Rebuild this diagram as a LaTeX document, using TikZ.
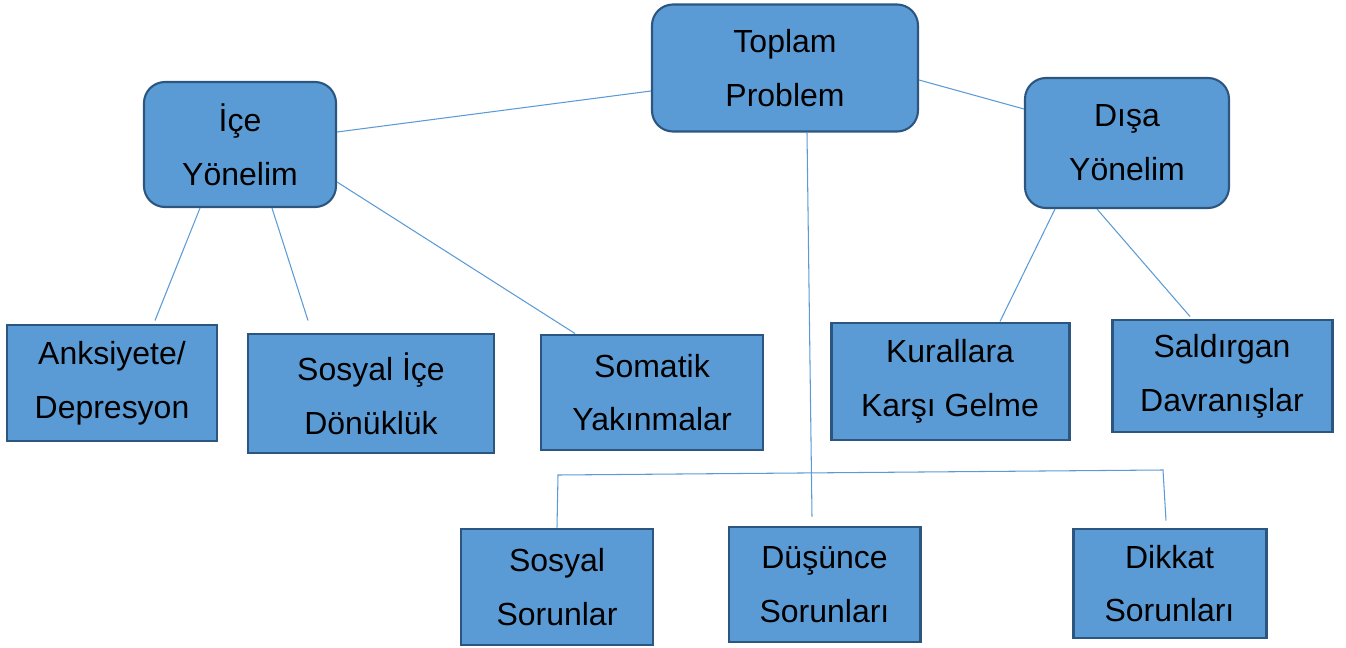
\documentclass[tikz,border=0pt]{standalone}
\usepackage{fontspec}
\setmainfont{Liberation Sans}
\usepackage{tikz}
\usetikzlibrary{positioning}
\definecolor{boxblue}{HTML}{5B9BD5}
\definecolor{boxline}{HTML}{2C5680}
\definecolor{linkblue}{HTML}{5B9BD5}

\begin{document}
\begin{tikzpicture}[
    basebox/.style={rectangle, draw=boxline, fill=boxblue, align=center,
      inner sep=0pt, font=\fontsize{18.2}{30.6}\selectfont},
    groupbox/.style={basebox, rounded corners=0.42cm, line width=1.2pt},
    leafbox/.style={basebox, line width=1.7pt},
    link/.style={draw=linkblue, line width=0.6pt}
  ]
    \useasboundingbox (0,0) rectangle (26.92,-12.96);

    % ust duzey
    \node[groupbox, minimum width=5.32cm, minimum height=2.54cm] (toplam) at (15.70,-1.36) {Toplam\\Problem};
    \node[groupbox, minimum width=3.84cm, minimum height=2.50cm] (ice) at (4.80,-2.89) {İçe\\Yönelim};
    \node[groupbox, minimum width=4.08cm, minimum height=2.60cm] (disa) at (22.54,-2.86) {Dışa\\Yönelim};

    % alt olcekler
    \node[leafbox, minimum width=4.20cm, minimum height=2.32cm] (anks) at (2.24,-7.66) {Anksiyete/\\Depresyon};
    \node[leafbox, minimum width=4.92cm, minimum height=2.38cm] (sosice) at (7.42,-7.87) {Sosyal İçe\\Dönüklük};
    \node[leafbox, minimum width=4.44cm, minimum height=2.30cm] (somatik) at (13.04,-7.85) {Somatik\\Yakınmalar};
    \node[leafbox, minimum width=4.76cm, minimum height=2.34cm] (kural) at (19.00,-7.63) {Kurallara\\Karşı Gelme};
    \node[leafbox, minimum width=4.40cm, minimum height=2.24cm] (saldir) at (24.44,-7.52) {Saldırgan\\Davranışlar};
    \node[leafbox, minimum width=3.84cm, minimum height=2.32cm] (sosyal) at (11.14,-11.74) {Sosyal\\Sorunlar};
    \node[leafbox, minimum width=3.82cm, minimum height=2.30cm] (dusunce) at (16.49,-11.69) {Düşünce\\Sorunları};
    \node[leafbox, minimum width=3.86cm, minimum height=2.18cm] (dikkat) at (23.39,-11.67) {Dikkat\\Sorunları};

    \coordinate (busL) at (11.16,-9.50);
    \coordinate (busR) at (23.26,-9.40);

    \draw[link] ([yshift=-0.46cm]toplam.west) -- ([yshift=0.25cm]ice.east);
    \draw[link] ([yshift=-0.24cm]toplam.east) -- ([yshift=0.68cm]disa.west);
    \draw[link] ([xshift=0.44cm]toplam.south) -- ([xshift=-0.25cm,yshift=0.18cm]dusunce.north);
    \draw[link] (sosyal.north) -- (busL) -- (busR) -- ([xshift=-0.07cm,yshift=0.14cm]dikkat.north);

    \draw[link] ([xshift=-0.80cm]ice.south) -- ([xshift=0.86cm,yshift=0.06cm]anks.north);
    \draw[link] ([xshift=0.64cm]ice.south) -- ([xshift=-1.26cm,yshift=0.24cm]sosice.north);
    \draw[link] ([yshift=-0.75cm]ice.east) -- ([xshift=-1.54cm]somatik.north);

    \draw[link] ([xshift=-1.44cm]disa.south) -- ([xshift=1.00cm]kural.north);
    \draw[link] ([xshift=-0.60cm]disa.south) -- ([xshift=-0.64cm,yshift=0.04cm]saldir.north);
  \end{tikzpicture}
\end{document}
